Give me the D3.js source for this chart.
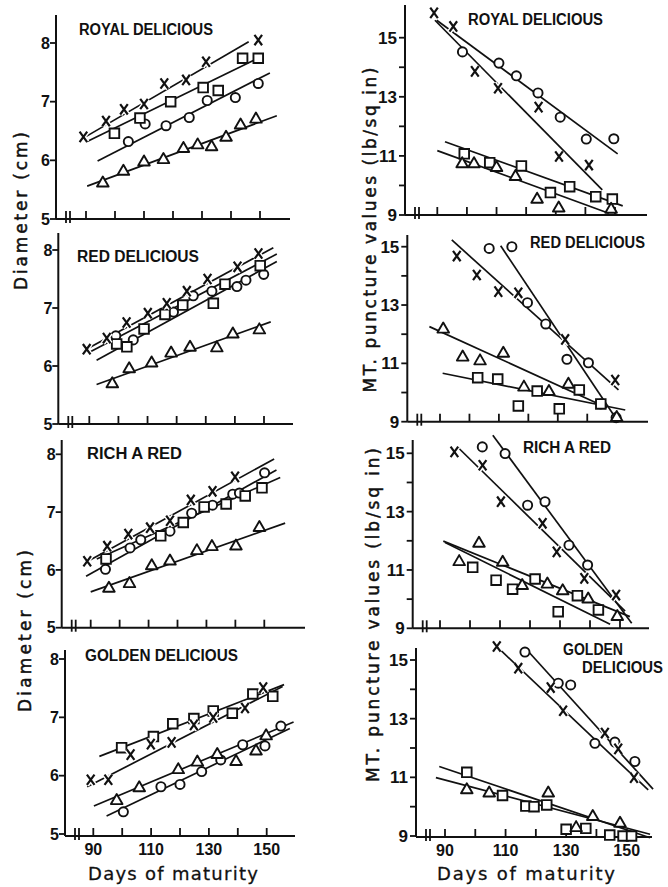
<!DOCTYPE html>
<html><head><meta charset="utf-8">
<script src="https://cdn.jsdelivr.net/npm/d3@7"></script>
<style>
html,body{margin:0;padding:0;background:#fff;}
svg{display:block;}
text{fill:#111;}
</style></head><body>
<svg id="chart" width="668" height="887"></svg>
<script>
// ---------- axis ticks ----------
const xTickDays = [90, 100, 110, 120, 130, 140, 150];
const xTickLabels = [90, 110, 130, 150];
const diameterTicks = [5, 6, 7, 8];
const punctureTicks = [9, 10, 11, 12, 13, 14, 15];
const punctureTickLabels = [9, 11, 13, 15];

// ---------- Royal Delicious: diameter (cm) ----------
const royalDiamX = [[89.1,6.40],[96.9,6.67],[103.1,6.87],[110.0,6.96],[117.0,7.31],[124.5,7.37],[131.4,7.68],[149.4,8.05]];
const royalDiamSq = [[99.8,6.46],[108.6,6.72],[119.2,7.00],[130.4,7.24],[135.6,7.19],[144.0,7.74],[149.4,7.74]];
const royalDiamCirc = [[104.6,6.32],[110.4,6.62],[117.6,6.59],[125.6,6.73],[131.8,7.02],[141.5,7.07],[149.4,7.31]];
const royalDiamTri = [[95.8,5.61],[102.9,5.81],[110.0,5.97],[116.7,6.01],[123.6,6.20],[128.5,6.26],[133.3,6.23],[138.3,6.39],[143.3,6.60],[148.6,6.70]];
const royalDiamFits = [["x",89.8,6.40,146.1,8.02],["sq",90.4,6.32,147.7,7.70],["circ",94.0,5.99,153.4,7.49],["tri",90.4,5.56,155.8,6.76]];

// ---------- Royal Delicious: puncture (lb/sq in) ----------
const royalPunctX = [[88.9,15.84],[95.4,15.38],[102.7,13.86],[110.5,13.29],[124.2,12.65],[131.1,10.98],[141.2,10.69]];
const royalPunctCirc = [[98.5,14.52],[110.8,14.14],[116.7,13.71],[124.0,13.13],[131.5,12.31],[140.3,11.57],[149.6,11.58]];
const royalPunctSq = [[99.1,11.07],[107.7,10.77],[118.4,10.66],[128.2,9.76],[134.7,9.96],[143.5,9.62],[149.1,9.54]];
const royalPunctTri = [[98.4,10.73],[102.4,10.73],[110.0,10.60],[116.4,10.30],[123.7,9.53],[131.0,9.23],[148.7,9.19]];
const royalPunctFits = [["x",89.2,15.59,145.7,9.85],["circ",89.8,15.59,150.9,11.07],["sq",92.6,11.48,152.6,9.31],["tri",90.0,11.18,147.9,9.06]];

// ---------- Red Delicious: diameter ----------
const redDiamX = [[89.1,6.29],[96.0,6.48],[102.8,6.75],[110.1,6.91],[116.6,7.08],[123.5,7.29],[130.6,7.50],[140.9,7.71],[148.1,7.94]];
const redDiamSq = [[99.4,6.38],[102.9,6.33],[108.8,6.64],[116.0,6.89],[122.1,7.05],[132.6,7.08],[136.6,7.41],[148.7,7.73]];
const redDiamCirc = [[99.1,6.52],[105.1,6.45],[118.9,6.93],[125.7,7.21],[132.1,7.29],[140.7,7.37],[143.8,7.48],[149.9,7.58]];
const redDiamTri = [[97.9,5.69],[103.7,5.95],[111.4,6.05],[118.1,6.22],[124.6,6.32],[133.8,6.31],[139.3,6.55],[148.4,6.62]];
const redDiamFits = [["x",87.9,6.26,153.2,8.04],["sq",90.2,6.24,154.4,7.93],["circ",92.5,6.10,154.4,7.80],["tri",92.5,5.68,152.3,6.76]];

// ---------- Red Delicious: puncture ----------
const redPunctX = [[95.7,14.68],[102.5,14.03],[109.8,13.46],[116.6,13.42],[132.5,11.82],[149.5,10.43]];
const redPunctCirc = [[106.7,14.94],[114.4,15.00],[119.7,13.08],[125.9,12.35],[133.1,11.14],[140.4,11.02],[144.6,9.61],[149.8,9.14]];
const redPunctTri = [[91.1,12.17],[97.7,11.21],[103.6,11.08],[111.5,11.34],[118.5,10.18],[127.0,10.03],[133.6,10.28],[150.0,9.14]];
const redPunctSq = [[102.8,10.51],[109.6,10.46],[116.6,9.54],[123.0,10.05],[130.5,9.44],[137.3,10.09],[144.6,9.61]];
const redPunctFits = [["x",94.0,15.23,150.6,10.09],["circ",110.6,15.03,150.1,9.06],["tri",86.4,12.26,146.7,9.48],["sq",90.9,10.66,152.9,9.40]];

// ---------- Rich A Red: diameter ----------
const richDiamX = [[88.8,6.15],[95.7,6.41],[103.0,6.62],[110.5,6.73],[117.4,6.85],[124.6,7.21],[132.1,7.36],[139.9,7.61]];
const richDiamCirc = [[95.1,6.01],[103.6,6.38],[107.3,6.52],[117.4,6.67],[124.9,6.98],[132.1,7.12],[139.1,7.31],[141.4,7.33],[150.1,7.68]];
const richDiamSq = [[95.3,6.19],[114.2,6.59],[122.0,6.82],[129.2,7.09],[136.8,7.14],[143.4,7.28],[149.2,7.42]];
const richDiamTri = [[96.3,5.68],[103.4,5.76],[111.1,6.07],[117.4,6.15],[126.7,6.33],[131.9,6.40],[140.2,6.41],[148.3,6.73]];
const richDiamFits = [["x",89.8,6.17,153.4,7.92],["circ",88.4,5.89,154.2,7.73],["sq",92.1,6.19,155.5,7.60],["tri",90.0,5.62,157.2,6.81]];

// ---------- Rich A Red: puncture ----------
const richPunctX = [[94.8,15.05],[104.2,14.59],[110.3,13.34],[124.2,12.60],[128.9,11.62],[138.1,10.71],[148.7,10.14]];
const richPunctCirc = [[104.1,15.22],[111.7,14.99],[119.2,13.22],[125.0,13.34],[133.0,11.85],[139.2,11.17]];
const richPunctTri = [[96.4,11.28],[103.0,11.91],[110.9,11.26],[117.4,10.46],[125.8,10.51],[130.9,10.28],[139.4,10.00],[149.1,9.40]];
const richPunctSq = [[100.9,11.09],[108.7,10.65],[114.2,10.34],[121.7,10.69],[129.4,9.57],[135.8,10.12],[142.8,9.63]];
const richPunctFits = [["x",96.1,15.19,151.7,9.59],["circ",107.6,15.62,153.9,9.17],["tri",91.1,11.99,153.3,9.40],["sq",91.7,11.94,146.7,9.14]];

// ---------- Golden Delicious: diameter ----------
const goldenDiamSq = [[99.8,6.48],[110.8,6.67],[117.5,6.89],[124.8,6.98],[131.5,7.11],[138.1,7.07],[145.2,7.40],[152.1,7.36]];
const goldenDiamX = [[89.1,5.93],[95.2,5.93],[102.9,6.36],[109.9,6.54],[117.1,6.57],[124.8,6.87],[131.5,7.00],[142.5,7.16],[148.8,7.51]];
const goldenDiamTri = [[98.1,5.57],[105.9,5.79],[119.4,6.10],[126.0,6.23],[132.9,6.36],[139.4,6.24],[146.3,6.42],[149.8,6.68]];
const goldenDiamCirc = [[100.4,5.38],[113.4,5.81],[120.0,5.85],[127.5,6.07],[134.1,6.27],[141.7,6.53],[149.4,6.51],[154.9,6.85]];
const goldenDiamFits = [["sq",92.1,6.33,156.0,7.56],["x",87.9,5.81,155.5,7.53],["tri",90.2,5.48,159.3,6.92],["circ",94.6,5.31,158.0,6.81]];

// ---------- Golden Delicious: puncture ----------
const goldenPunctX = [[107.1,15.46],[114.2,14.72],[124.9,14.06],[129.0,13.27],[142.8,12.51],[147.2,11.97],[152.4,10.99]];
const goldenPunctCirc = [[116.4,15.27],[127.4,14.21],[131.5,14.15],[139.5,12.16],[146.1,12.20],[152.7,11.54]];
const goldenPunctSq = [[97.2,11.17],[109.0,10.38],[116.7,10.02],[119.4,10.00],[123.6,10.06],[130.0,9.23],[136.5,9.26],[144.4,9.03],[148.8,9.00],[151.6,9.00]];
const goldenPunctTri = [[97.2,10.57],[104.6,10.46],[124.1,10.46],[133.3,9.28],[138.8,9.66],[147.8,9.43]];
const goldenPunctFits = [["x",107.6,15.41,157.1,10.57],["circ",117.0,15.35,158.7,10.60],["sq",88.1,11.37,157.7,8.94],["tri",87.0,10.99,157.7,9.06]];

// ---------- panel layout ----------
const panels = [
  {title:["ROYAL DELICIOUS"], tx:79, ty:35, tw:134, kind:"diam",
   x90:86, x150:260, yLo:219, yHi:43, axisX:56, top:15, right:290, base:219, xLabels:false,
   series:{x:royalDiamX, sq:royalDiamSq, circ:royalDiamCirc, tri:royalDiamTri}, fits:royalDiamFits},
  {title:["ROYAL DELICIOUS"], tx:468, ty:25, tw:135, kind:"punct",
   x90:437.3, x150:615, yLo:215, yHi:37.7, axisX:405, top:5, right:647, base:215, xLabels:false,
   series:{x:royalPunctX, sq:royalPunctSq, circ:royalPunctCirc, tri:royalPunctTri}, fits:royalPunctFits},
  {title:["RED DELICIOUS"], tx:77, ty:262, tw:122, kind:"diam",
   x90:89.3, x150:264, yLo:424, yHi:250, axisX:58.3, top:233, right:293, base:424, xLabels:false,
   series:{x:redDiamX, sq:redDiamSq, circ:redDiamCirc, tri:redDiamTri}, fits:redDiamFits},
  {title:["RED DELICIOUS"], tx:530, ty:248, tw:115, kind:"punct",
   x90:440, x150:616.7, yLo:421.7, yHi:246.7, axisX:407.3, top:235, right:648, base:421.7, xLabels:false,
   series:{x:redPunctX, sq:redPunctSq, circ:redPunctCirc, tri:redPunctTri}, fits:redPunctFits},
  {title:["RICH A RED"], tx:87, ty:459, tw:95, kind:"diam",
   x90:90.7, x150:264.3, yLo:627.7, yHi:454.3, axisX:61.7, top:440, right:305, base:627.7, xLabels:false,
   series:{x:richDiamX, sq:richDiamSq, circ:richDiamCirc, tri:richDiamTri}, fits:richDiamFits},
  {title:["RICH A RED"], tx:523, ty:453, tw:88, kind:"punct",
   x90:440, x150:620, yLo:628.3, yHi:453.3, axisX:412.7, top:440, right:649, base:628.3, xLabels:false,
   series:{x:richPunctX, sq:richPunctSq, circ:richPunctCirc, tri:richPunctTri}, fits:richPunctFits},
  {title:["GOLDEN DELICIOUS"], tx:85, ty:661, tw:153, kind:"diam",
   x90:93.3, x150:266.7, yLo:834, yHi:659, axisX:65, top:650, right:295, base:836, xLabels:true,
   series:{x:goldenDiamX, sq:goldenDiamSq, circ:goldenDiamCirc, tri:goldenDiamTri}, fits:goldenDiamFits},
  {title:["GOLDEN","DELICIOUS"], tx:563, ty:655, tw:60, tx2:582, ty2:673, tw2:81, kind:"punct",
   x90:445, x150:626.7, yLo:836, yHi:660, axisX:416, top:648, right:652, base:837, xLabels:true,
   series:{x:goldenPunctX, sq:goldenPunctSq, circ:goldenPunctCirc, tri:goldenPunctTri}, fits:goldenPunctFits}
];

const svg = d3.select("#chart");
const ink = "#111";
const numFont = "'Liberation Sans', Arial, sans-serif";
const labelFont = "'DejaVu Sans', sans-serif";

// marker shapes
const circlePath = d3.symbol(d3.symbolCircle, 66)();
const squarePath = d3.symbol(d3.symbolSquare, 92)();
const trianglePath = d3.symbol(d3.symbolTriangle, 58)();
const crossPath = "M-3.8,-5.2L3.8,5.2M3.8,-5.2L-3.8,5.2";

panels.forEach(p => {
  const g = svg.append("g");
  const x = d3.scaleLinear().domain([90, 150]).range([p.x90, p.x150]);
  const y = p.kind === "diam"
    ? d3.scaleLinear().domain([5, 8]).range([p.yLo, p.yHi])
    : d3.scaleLinear().domain([9, 15]).range([p.yLo, p.yHi]);

  // axes
  g.append("line").attr("x1", p.axisX).attr("x2", p.axisX).attr("y1", p.top).attr("y2", p.base)
    .attr("stroke", ink).attr("stroke-width", 2);
  g.append("line").attr("x1", p.axisX).attr("x2", p.right).attr("y1", p.base).attr("y2", p.base)
    .attr("stroke", ink).attr("stroke-width", 2);
  // axis break
  [10, 14].forEach(dx => g.append("line")
    .attr("x1", p.axisX + dx).attr("x2", p.axisX + dx)
    .attr("y1", p.base - 8).attr("y2", p.base + 4)
    .attr("stroke", ink).attr("stroke-width", 1.8));

  // x ticks (inward)
  g.selectAll(".xt").data(xTickDays).enter().append("line")
    .attr("x1", d => x(d)).attr("x2", d => x(d))
    .attr("y1", p.base).attr("y2", p.base - 8)
    .attr("stroke", ink).attr("stroke-width", 1.8);
  if (p.xLabels) {
    g.selectAll(".xl").data(xTickLabels).enter().append("text")
      .attr("x", d => x(d)).attr("y", p.base + 19)
      .attr("text-anchor", "middle")
      .style("font-family", numFont).style("font-size", "16px").style("font-weight", "bold")
      .text(d => d);
  }

  // y ticks (outward)
  const yTicks = p.kind === "diam" ? diameterTicks : punctureTicks;
  const yLabels = p.kind === "diam" ? diameterTicks : punctureTickLabels;
  g.selectAll(".yt").data(yTicks).enter().append("line")
    .attr("x1", p.axisX - 6).attr("x2", p.axisX)
    .attr("y1", d => y(d)).attr("y2", d => y(d))
    .attr("stroke", ink).attr("stroke-width", 1.8);
  g.selectAll(".yl").data(yLabels).enter().append("text")
    .attr("x", p.axisX - (p.kind === "diam" ? 6 : 8)).attr("y", d => y(d)).attr("dy", "0.36em")
    .attr("text-anchor", "end")
    .style("font-family", numFont).style("font-size", p.kind === "diam" ? "16px" : "17px").style("font-weight", "bold")
    .text(d => d);

  // cultivar title
  g.append("text").attr("x", p.tx).attr("y", p.ty)
    .attr("textLength", p.tw).attr("lengthAdjust", "spacingAndGlyphs")
    .style("font-family", numFont).style("font-size", "16px").style("font-weight", "bold")
    .text(p.title[0]);
  if (p.title.length > 1) {
    g.append("text").attr("x", p.tx2).attr("y", p.ty2)
      .attr("textLength", p.tw2).attr("lengthAdjust", "spacingAndGlyphs")
      .style("font-family", numFont).style("font-size", "16px").style("font-weight", "bold")
      .text(p.title[1]);
  }

  // fitted regression lines
  g.selectAll(".fit").data(p.fits).enter().append("line")
    .attr("x1", d => x(d[1])).attr("y1", d => y(d[2]))
    .attr("x2", d => x(d[3])).attr("y2", d => y(d[4]))
    .attr("stroke", ink).attr("stroke-width", 1.7);

  // observations
  const pts = (arr) => g.selectAll(null).data(arr).enter();
  pts(p.series.circ).append("path").attr("d", circlePath)
    .attr("transform", d => `translate(${x(d[0])},${y(d[1])})`)
    .attr("fill", "#fff").attr("stroke", ink).attr("stroke-width", 1.9);
  pts(p.series.sq).append("path").attr("d", squarePath)
    .attr("transform", d => `translate(${x(d[0])},${y(d[1])})`)
    .attr("fill", "#fff").attr("stroke", ink).attr("stroke-width", 1.9);
  pts(p.series.tri).append("path").attr("d", trianglePath)
    .attr("transform", d => `translate(${x(d[0])},${y(d[1])})`)
    .attr("fill", "#fff").attr("stroke", ink).attr("stroke-width", 1.9).attr("stroke-linejoin", "round");
  pts(p.series.x).append("path").attr("d", crossPath)
    .attr("transform", d => `translate(${x(d[0])},${y(d[1])})`)
    .attr("fill", "none").attr("stroke", "#fff").attr("stroke-width", 5);
  pts(p.series.x).append("path").attr("d", crossPath)
    .attr("transform", d => `translate(${x(d[0])},${y(d[1])})`)
    .attr("fill", "none").attr("stroke", ink).attr("stroke-width", 2.2);
});

// axis titles
function vLabel(txt, cx, cy, len, size) {
  svg.append("text")
    .attr("transform", `translate(${cx},${cy}) rotate(-90)`)
    .attr("text-anchor", "middle")
    .attr("textLength", len).attr("lengthAdjust", "spacing")
    .style("font-family", labelFont).style("font-size", size + "px")
    .style("stroke", ink).style("stroke-width", 0.5)
    .text(txt);
}
vLabel("Diameter (cm)", 27, 211, 158, 17);
vLabel("Diameter (cm)", 31, 631, 162, 17);
vLabel("MT. puncture values (lb/sq in)", 376, 230, 325, 17);
vLabel("MT. puncture values (lb/sq in)", 379, 615, 334, 17);

function hLabel(txt, x0, yb, len) {
  svg.append("text").attr("x", x0).attr("y", yb)
    .attr("textLength", len).attr("lengthAdjust", "spacing")
    .style("font-family", labelFont).style("font-size", "18px")
    .style("stroke", ink).style("stroke-width", 0.3)
    .text(txt);
}
hLabel("Days of maturity", 88, 880, 170);
hLabel("Days of maturity", 437, 880, 178);
</script>
</body></html>
